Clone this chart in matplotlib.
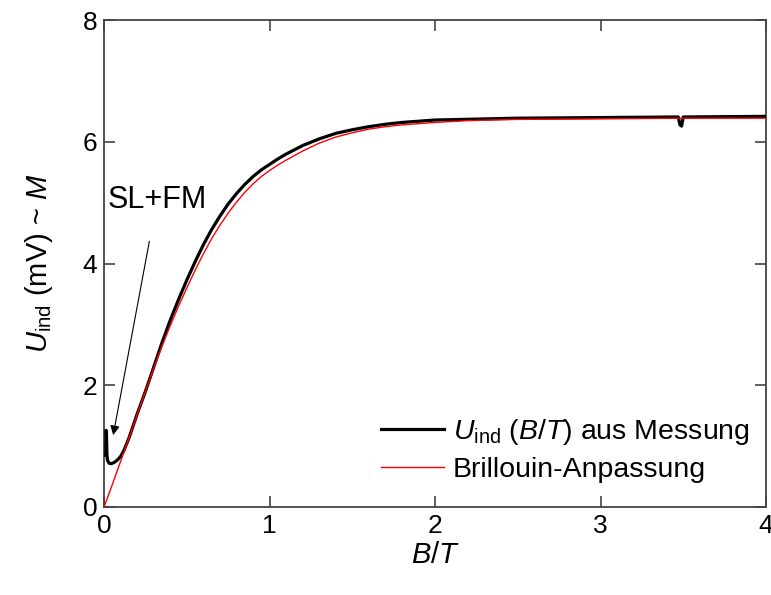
import matplotlib
matplotlib.use('Agg')
import matplotlib.pyplot as plt

### DATA ###
# Brillouin fit (red)
b_fit = [0, 0.05, 0.1, 0.15, 0.2, 0.25, 0.3, 0.35, 0.4, 0.45, 0.5, 0.55, 0.6, 0.65, 0.7,
         0.75, 0.8, 0.85, 0.9, 0.95, 1.0, 1.05, 1.1, 1.2, 1.3, 1.4, 1.5, 1.6, 1.7, 1.8, 1.9,
         2.0, 2.2, 2.5, 3.0, 3.5, 4.0]
u_fit = [0, 0.37, 0.75, 1.13, 1.52, 1.9, 2.28, 2.64, 2.98, 3.3, 3.6, 3.89, 4.16, 4.41, 4.63,
         4.83, 5.01, 5.17, 5.31, 5.43, 5.53, 5.62, 5.7, 5.85, 5.98, 6.08, 6.15, 6.21, 6.25, 6.28,
         6.3, 6.32, 6.35, 6.37, 6.38, 6.39, 6.39]

# Measurement (black)
b_meas = [0.01, 0.012, 0.014, 0.017, 0.02, 0.03, 0.042, 0.06, 0.08, 0.1, 0.12, 0.15, 0.2,
          0.25, 0.3, 0.35, 0.4, 0.45, 0.5, 0.55, 0.6, 0.65, 0.7, 0.75, 0.8, 0.85, 0.9, 0.95,
          1.0, 1.05, 1.1, 1.2, 1.3, 1.4, 1.5, 1.6, 1.7, 1.8, 1.9, 2.0, 2.5, 3.0, 3.47, 3.48, 3.49,
          3.5, 3.51, 4.0]
u_meas = [0.85, 1.26, 1.24, 0.88, 0.77, 0.72, 0.71, 0.73, 0.77, 0.83, 0.93, 1.13, 1.53,
          1.9, 2.3, 2.7, 3.07, 3.41, 3.73, 4.03, 4.31, 4.56, 4.78, 4.98, 5.15, 5.3, 5.43, 5.54,
          5.63, 5.72, 5.8, 5.94, 6.05, 6.14, 6.2, 6.25, 6.29, 6.32, 6.34, 6.36, 6.39, 6.40, 6.41,
          6.28, 6.26, 6.41, 6.41, 6.42]

### STYLE ###
plt.rcParams['font.family'] = ['Liberation Sans', 'DejaVu Sans']
plt.rcParams['mathtext.fontset'] = 'custom'
plt.rcParams['mathtext.rm'] = 'Liberation Sans'
plt.rcParams['mathtext.it'] = 'Liberation Sans:italic'

fig = plt.figure(figsize=(7.71, 5.95), dpi=100)
ax = fig.add_axes([0.135, 0.148, 0.8585, 0.818])

ax.plot(b_meas, u_meas, color='black', lw=2.3, label=r'$U_{\mathrm{ind}}$ ($B/T$) aus Messung', zorder=3)
ax.plot(b_fit, u_fit, color='red', lw=1.0, label='Brillouin-Anpassung', zorder=4)

ax.set_xlim(0, 4)
ax.set_ylim(0, 8)
ax.set_xticks([0, 1, 2, 3, 4])
ax.set_yticks([0, 2, 4, 6, 8])
ax.tick_params(direction='in', length=8, width=1.2, labelsize=19, top=True, right=True,
               pad=5, color='#444444')
for s in ax.spines.values():
    s.set_color('#444444')
    s.set_linewidth(1.3)

ax.set_xlabel(r'$B/T$', fontsize=21, labelpad=2)
ax.set_ylabel(r'$U_{\mathrm{ind}}$ (mV) ~ $M$', fontsize=21, labelpad=20)

ax.annotate('SL+FM', xy=(0.055, 1.18), xytext=(0.02, 5.04), fontsize=22, va='center',
            arrowprops=dict(arrowstyle='-|>', color='black', lw=0.8, shrinkA=17, shrinkB=0,
                            mutation_scale=14))

ax.legend(loc='lower right', frameon=False, fontsize=20.5, handlelength=2.2,
          handletextpad=0.3, borderpad=0, borderaxespad=0,
          bbox_to_anchor=(0.975, 0.05), labelspacing=0.35)

plt.savefig('out.png', dpi=100)
